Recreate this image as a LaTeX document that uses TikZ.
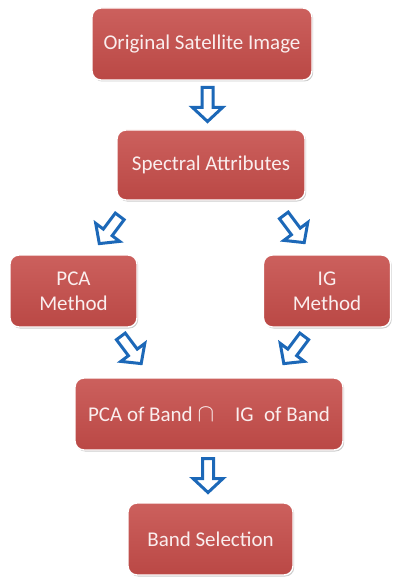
\documentclass[tikz,border=0pt]{standalone}
\usepackage{fontspec}
\setmainfont{Carlito}
\usetikzlibrary{shadows}
\definecolor{boxtop}{RGB}{204,96,93}
\definecolor{boxbot}{RGB}{186,72,69}
\definecolor{arrowblue}{RGB}{28,104,184}
\definecolor{labelwhite}{RGB}{250,238,238}
\newcommand{\bandcap}{{\fontsize{27}{27}\selectfont$\cap$}}
\begin{document}
\begin{tikzpicture}[x=1pt, y=-1pt,
    stagebox/.style={draw=white, line width=1.4pt, rounded corners=9pt,
                     top color=boxtop, bottom color=boxbot, text=labelwhite,
                     font=\fontsize{21}{25}\selectfont, align=center, inner sep=2pt,
                     drop shadow={opacity=0.4, shadow xshift=1.2pt, shadow yshift=-1.5pt}},
    flowarrow/.pic={
        \draw [arrowblue, line width=3pt, fill=white, line join=miter]
            (-17,-5.5) -- (3,-5.5) -- (3,-15) -- (17,0) -- (3,15) -- (3,5.5) -- (-17,5.5) -- cycle;
    }]
    \fill[white] (0,0) rectangle (392,577);
    \useasboundingbox (0,0) rectangle (392,577);

    % boxes
    \node [stagebox, minimum width=220pt, minimum height=72pt] (orig)  at (202,44)    {Original Satellite Image};
    \node [stagebox, minimum width=188pt, minimum height=70pt] (spec)  at (211,165)   {Spectral Attributes};
    \node [stagebox, minimum width=127pt, minimum height=72pt] (pca)   at (73.5,291)  {PCA\\Method};
    \node [stagebox, minimum width=127pt, minimum height=72pt] (ig)    at (327,291)   {IG\\Method};
    \node [stagebox, minimum width=268pt, minimum height=72pt] (inter) at (209,414)   {PCA of Band~\bandcap\quad IG\enspace of Band};
    \node [stagebox, minimum width=165pt, minimum height=72pt] (band)  at (210.5,539) {Band Selection};

    % arrow ends
    \coordinate (t1) at (207.5,88);  \coordinate (h1) at (207.5,121);
    \coordinate (t2) at (120,216);   \coordinate (h2) at (99,244);
    \coordinate (t3) at (283.5,215); \coordinate (h3) at (304.5,243);
    \coordinate (t4) at (120.5,336); \coordinate (h4) at (141.5,364);
    \coordinate (t5) at (304.5,336); \coordinate (h5) at (283.5,364);
    \coordinate (t6) at (208,459);   \coordinate (h6) at (208,492);

    \foreach \i in {1,...,6}
        \path (t\i) -- (h\i) pic [midway, sloped, allow upside down] {flowarrow};
\end{tikzpicture}
\end{document}
